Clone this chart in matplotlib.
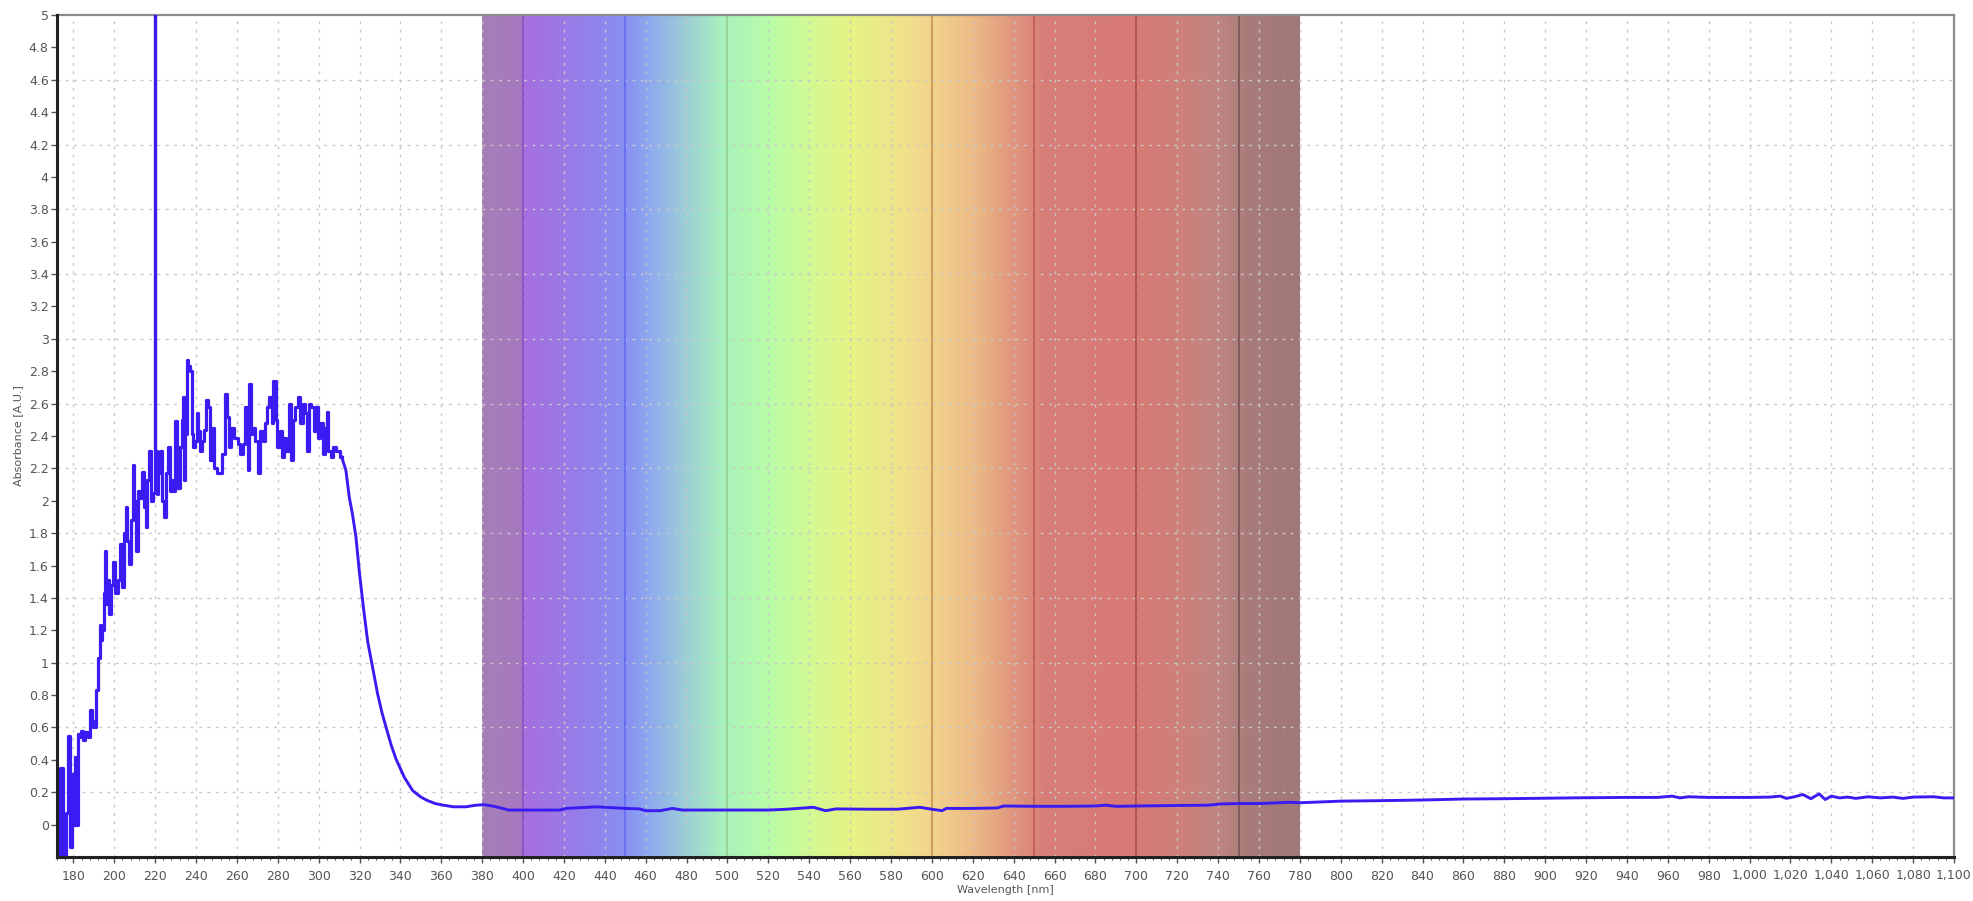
import numpy as np
import matplotlib
matplotlib.use("Agg")
import matplotlib.pyplot as plt
from matplotlib.ticker import MultipleLocator, FuncFormatter
from matplotlib.colors import to_rgb

# ---------------- data ----------------
uv_nm = [172.3, 173.0, 173.8, 175.8, 176.7, 177.6, 178.7, 179.5, 180.3, 181.1,
         182.0, 182.8, 183.3, 184.4, 185.2, 186.5, 187.7, 188.5, 189.3, 190.4,
         191.7, 192.6, 193.4, 193.9, 194.5, 195.3, 195.8, 196.3, 197.1, 197.9,
         198.8, 199.9, 201.2, 202.0, 203.2, 204.1, 205.3, 206.1, 206.8, 207.7,
         208.9, 209.5, 210.2, 211.3, 212.1, 212.9, 213.8, 214.9, 215.9, 216.5,
         217.5, 218.7, 219.6, 220.0, 220.3, 221.1, 221.9, 223.1, 224.1, 224.7,
         225.7, 226.8, 227.6, 228.5, 229.3, 230.4, 231.4, 232.5, 233.4, 233.8,
         234.5, 235.0, 235.8, 236.6, 237.4, 238.2, 239.1, 239.9, 240.7, 241.5,
         242.3, 243.3, 244.3, 245.6, 246.4, 247.2, 248.0, 249.7]
uv_abs = [-0.02, -0.25, 0.35, -0.25, 0.07, 0.55, -0.14, 0.31, 0.0, 0.42,
          0.0, 0.56, 0.54, 0.58, 0.52, 0.57, 0.54, 0.71, 0.64, 0.60,
          0.83, 1.03, 1.23, 1.14, 1.20, 1.43, 1.69, 1.36, 1.51, 1.30,
          1.48, 1.62, 1.43, 1.51, 1.73, 1.47, 1.80, 1.96, 1.75, 1.61,
          1.88, 2.22, 2.00, 1.69, 2.06, 2.02, 2.18, 1.96, 1.84, 2.13,
          2.31, 2.00, 2.05, 5.50, 2.31, 2.04, 2.17, 2.31, 2.00, 1.90,
          2.17, 2.33, 2.06, 2.13, 2.06, 2.49, 2.08, 2.33, 2.50, 2.64,
          2.13, 2.41, 2.87, 2.83, 2.80, 2.41, 2.33, 2.37, 2.54, 2.43,
          2.31, 2.37, 2.44, 2.62, 2.58, 2.25, 2.45, 2.20]

plateau_nm = [251.3, 252.4, 253.3, 254.6, 255.4, 256.5, 257.8, 259.5, 261.1, 262.4,
              263.5, 264.7, 265.7, 266.1, 267.3, 268.4, 269.6, 270.9, 272.2, 273.3,
              274.5, 275.3, 276.6, 277.4, 278.4, 279.4, 280.3, 281.5, 282.3, 283.4,
              284.7, 285.9, 286.9, 288.0, 289.3, 290.5, 291.6, 292.6, 293.7, 294.9,
              295.8, 297.0, 298.1, 299.1, 300.2, 301.4, 302.4, 303.5, 304.3, 305.1,
              306.5, 307.6, 308.9, 310.0, 311.3]
plateau_abs = [2.17, 2.17, 2.29, 2.66, 2.52, 2.33, 2.45, 2.39, 2.35, 2.29,
               2.35, 2.58, 2.19, 2.72, 2.41, 2.45, 2.37, 2.17, 2.43, 2.37,
               2.48, 2.58, 2.64, 2.48, 2.74, 2.50, 2.33, 2.43, 2.27, 2.39,
               2.31, 2.60, 2.25, 2.50, 2.58, 2.64, 2.48, 2.60, 2.54, 2.31,
               2.60, 2.58, 2.43, 2.58, 2.39, 2.48, 2.29, 2.45, 2.55, 2.31,
               2.27, 2.33, 2.31, 2.31, 2.27]

decay_nm = [312.0, 313.3, 315.0, 316.5, 318.2, 320.0, 322.0, 324.0, 326.4, 328.8,
            331.0, 333.0, 335.5, 338.0, 342.0, 346.0, 350.0, 353.0, 357.0, 361.0,
            366.0, 372.0, 377.0, 381.0, 385.0]
decay_abs = [2.24, 2.19, 2.02, 1.92, 1.78, 1.55, 1.33, 1.13, 0.97, 0.81,
             0.69, 0.60, 0.49, 0.40, 0.29, 0.21, 0.17, 0.15, 0.13, 0.12,
             0.11, 0.11, 0.12, 0.123, 0.115]

vis_nm = [390, 393, 400, 410, 418, 421, 436, 450, 457, 460, 467, 473, 478, 500,
          520, 529, 542, 548, 553, 570, 583, 594, 600, 605, 607, 620, 632, 635,
          650, 664, 680, 685, 690, 700, 720, 735, 742, 750, 760, 775, 780]
vis_abs = [0.10, 0.09, 0.09, 0.09, 0.09, 0.10, 0.11, 0.10, 0.097, 0.086, 0.086, 0.10, 0.09, 0.09,
           0.09, 0.095, 0.107, 0.086, 0.097, 0.095, 0.095, 0.107, 0.095, 0.086, 0.10, 0.10, 0.103, 0.115,
           0.113, 0.113, 0.115, 0.12, 0.113, 0.115, 0.118, 0.12, 0.128, 0.13, 0.13, 0.138, 0.135]

nir_nm = [790, 800, 820, 840, 860, 880, 900, 920, 940, 955, 962, 966, 970, 980,
          1000, 1010, 1015, 1018, 1022, 1026, 1030, 1034, 1037, 1040, 1044, 1048,
          1052, 1058, 1064, 1070, 1075, 1080, 1090, 1095, 1100]
nir_abs = [0.14, 0.145, 0.148, 0.152, 0.158, 0.16, 0.163, 0.166, 0.168, 0.168, 0.176, 0.165, 0.172, 0.168,
           0.168, 0.17, 0.176, 0.162, 0.172, 0.186, 0.16, 0.19, 0.155, 0.176, 0.165, 0.17,
           0.162, 0.172, 0.165, 0.17, 0.162, 0.17, 0.172, 0.165, 0.165]

# visible-spectrum band colour stops
band_nm = [380, 399, 401, 430, 450, 462, 480, 498, 520, 540, 560, 585, 600, 620,
           640, 655, 700, 720, 740, 755, 780]
band_colors = ['#a67fb6', '#a678c0', '#a66ee0', '#9480ea', '#8890f2', '#8eaaee',
               '#9dcfd6', '#a9f2bc', '#b8fca8', '#d2fa94', '#e4f484', '#f0e28a',
               '#f3d48e', '#ecbc86', '#e0967e', '#d87e78', '#d87a76', '#cf807a',
               '#c08682', '#a87c7a', '#a07878']
band_line_nm = [400, 450, 500, 600, 650, 700, 750]
band_line_colors = ['#8a52c4', '#6a6af2', '#94d494', '#c89a50', '#c45a5a', '#b05050', '#7c5858']

x_ticks = list(range(180, 1101, 20))
y_ticks = [round(0.2 * i, 1) for i in range(0, 26)]
h_grid = [round(0.2 + 0.4 * i, 1) for i in range(0, 12)]

# ---------------- figure ----------------
fig = plt.figure(figsize=(19.74, 9.01), dpi=100)
ax = fig.add_axes([57 / 1974, 44 / 901, (1954 - 57) / 1974, (857 - 15) / 901])
ax.set_xlim(172, 1100)
ax.set_ylim(-0.2, 5)

# gradient band
xs = np.linspace(380, 780, 800)
rgb = np.array([to_rgb(c) for c in band_colors])
img = np.stack([np.interp(xs, band_nm, rgb[:, k]) for k in range(3)], axis=-1)[None, :, :]
ax.imshow(img, extent=[380, 780, -0.2, 5], aspect='auto', zorder=0, interpolation='bilinear')
for xv, c in zip(band_line_nm, band_line_colors):
    ax.axvline(xv, color=c, lw=1.3, zorder=1)

# grid
for xv in x_ticks:
    ax.axvline(xv, color='#c8c8c8', lw=1.0, ls=(0, (2, 4)), zorder=0.5)
for yv in h_grid:
    ax.axhline(yv, color='#c8c8c8', lw=1.0, ls=(0, (2, 4)), zorder=0.5)

# curve: noisy UV part drawn as a stepped trace, the rest as a plain line
line_color = '#3a1cf2'
noisy_nm = uv_nm + plateau_nm
noisy_abs = uv_abs + plateau_abs
ax.plot(noisy_nm, noisy_abs, color=line_color, lw=2.3, zorder=3, drawstyle='steps-mid')
smooth_nm = [noisy_nm[-1]] + decay_nm + vis_nm + nir_nm
smooth_abs = [noisy_abs[-1]] + decay_abs + vis_abs + nir_abs
ax.plot(smooth_nm, smooth_abs, color=line_color, lw=2.1, zorder=3)

# axes styling
ax.set_xticks(x_ticks)
ax.xaxis.set_minor_locator(MultipleLocator(4))
ax.set_yticks(y_ticks)
ax.xaxis.set_major_formatter(FuncFormatter(lambda v, p: f"{v:,.0f}"))
ax.yaxis.set_major_formatter(FuncFormatter(lambda v, p: f"{v:g}"))
ax.tick_params(axis='both', which='major', direction='out', length=4, width=1,
               color='#555555', labelcolor='#555555', labelsize=9)
ax.tick_params(axis='x', which='major', pad=5)
ax.tick_params(axis='y', which='major', pad=2)
ax.tick_params(axis='x', which='minor', direction='out', length=2.5, width=0.8, color='#555555')

for s in ['left', 'bottom']:
    ax.spines[s].set_color('#222222')
    ax.spines[s].set_linewidth(2.2)
for s in ['top', 'right']:
    ax.spines[s].set_color('#8a8a8a')
    ax.spines[s].set_linewidth(1.6)
ax.spines['left'].set_zorder(5)
ax.spines['bottom'].set_zorder(5)

ax.set_xlabel('Wavelength [nm]', fontsize=8, color='#555555', labelpad=2)
ax.set_ylabel('Absorbance [A.U.]', fontsize=8, color='#555555', labelpad=4)

fig.savefig('out.png', dpi=100)
